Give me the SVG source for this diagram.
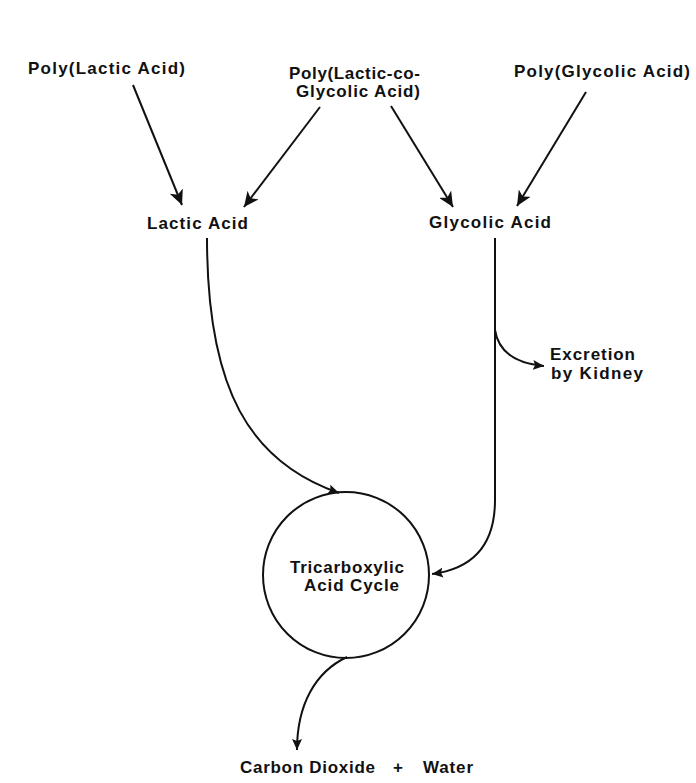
<svg xmlns="http://www.w3.org/2000/svg" width="696" height="783" viewBox="0 0 696 783">
<style>
text{font-family:"Liberation Sans",Arial,sans-serif;font-weight:bold;font-size:17px;fill:#111}
.ln{fill:none;stroke:#111;stroke-width:2}
</style>
<defs>
<marker id="big" markerUnits="userSpaceOnUse" markerWidth="16" markerHeight="14" refX="15" refY="7" orient="auto"><path d="M0,0 L15,7 L0,14 L4,7 Z" fill="#111"/></marker>
<marker id="sm" markerUnits="userSpaceOnUse" markerWidth="12" markerHeight="10" refX="11" refY="5" orient="auto"><path d="M0,0 L11,5 L0,10 L2,5 Z" fill="#111"/></marker>
</defs>
<rect width="696" height="783" fill="#fff"/>
<g id="pla"><text x="28" y="74" textLength="157" lengthAdjust="spacing">Poly(Lactic Acid)</text></g>
<g id="plga"><text x="289" y="79" textLength="131" lengthAdjust="spacing">Poly(Lactic-co-</text><text x="296" y="97" textLength="124" lengthAdjust="spacing">Glycolic Acid)</text></g>
<g id="pga"><text x="514" y="77" textLength="176" lengthAdjust="spacing">Poly(Glycolic Acid)</text></g>
<g id="lactic"><text x="147" y="229" textLength="101" lengthAdjust="spacing">Lactic Acid</text></g>
<g id="glycolic"><text x="429" y="228" textLength="122" lengthAdjust="spacing">Glycolic Acid</text></g>
<g id="kidney"><text x="550" y="360" textLength="85" lengthAdjust="spacing">Excretion</text><text x="551" y="379" textLength="92" lengthAdjust="spacing">by Kidney</text></g>
<g id="tca"><circle cx="346" cy="575" r="83" class="ln"/><text x="290" y="573" textLength="114" lengthAdjust="spacing">Tricarboxylic</text><text x="304" y="591" textLength="95" lengthAdjust="spacing">Acid Cycle</text></g>
<g id="products"><text x="240" y="773" textLength="135" lengthAdjust="spacing">Carbon Dioxide</text><text x="393" y="773">+</text><text x="423" y="773" textLength="50" lengthAdjust="spacing">Water</text></g>
<g id="connectors">
<path class="ln" d="M133,85 L182,205" marker-end="url(#big)"/>
<path class="ln" d="M320,107 L244,207" marker-end="url(#big)"/>
<path class="ln" d="M391,106 L453,207" marker-end="url(#big)"/>
<path class="ln" d="M586,92 L517,206" marker-end="url(#big)"/>
<path class="ln" d="M207,238 C207,390 250,462 339,493" marker-end="url(#sm)"/>
<path class="ln" d="M495,238 L495,500 Q495,566 432,574" marker-end="url(#sm)"/>
<path class="ln" d="M495,330 Q500,362 544,366" marker-end="url(#sm)"/>
<path class="ln" d="M347,657 C315,672 297,705 297,750" marker-end="url(#sm)"/>
</g>
</svg>
